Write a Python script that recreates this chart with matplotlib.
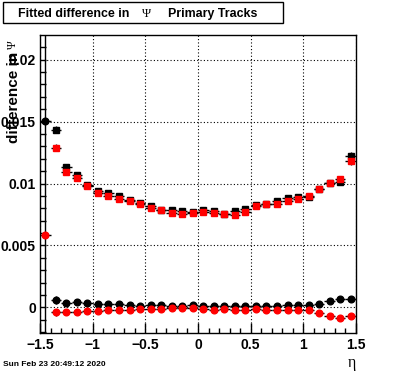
import numpy as np
import matplotlib
matplotlib.use("Agg")
import matplotlib.pyplot as plt
from matplotlib.patches import Rectangle
from matplotlib.ticker import MultipleLocator, FixedLocator

plt.rcParams['font.family'] = ['Liberation Sans', 'DejaVu Sans']
plt.rcParams['axes.unicode_minus'] = True

# ----- DATOS -----
eta = np.round(np.arange(-1.45, 1.5, 0.1), 2)   # centros de los bins

# cuadrados (parte superior)
sq_black = [np.nan, 0.01435, 0.01132, 0.01069, 0.00988, 0.00939, 0.00920, 0.00901, 0.00866, 0.00841,
            0.00820, 0.00785, 0.00785, 0.00776, 0.00771, 0.00790, 0.00776, 0.00754, 0.00779, 0.00793,
            0.00828, 0.00836, 0.00858, 0.00880, 0.00888, 0.00893, 0.00955, 0.01004, 0.01015, 0.01221]
sq_red = [np.nan, 0.01289, 0.01091, 0.01042, 0.00982, 0.00923, 0.00901, 0.00874, 0.00860, 0.00836,
          0.00803, 0.00785, 0.00760, 0.00754, 0.00763, 0.00772, 0.00766, 0.00754, 0.00744, 0.00771,
          0.00820, 0.00836, 0.00836, 0.00858, 0.00876, 0.00896, 0.00955, 0.01004, 0.01037, 0.01183]

# circulos (parte inferior)
ci_black = [0.01506, 0.00061, 0.00037, 0.00045, 0.00037, 0.00028, 0.00028, 0.00028, 0.00020, 0.00015,
            0.00020, 0.00020, 0.00015, 0.00015, 0.00020, 0.00012, 0.00012, 0.00012, 0.00012, 0.00012,
            0.00012, 0.00012, 0.00012, 0.00020, 0.00020, 0.00020, 0.00028, 0.00053, 0.00069, 0.00069]
ci_red = [0.00584, -0.00041, -0.00041, -0.00039, -0.00031, -0.00031, -0.00020, -0.00020, -0.00020, -0.00010,
          -0.00010, -0.00010, -0.00004, -0.00002, -0.00008, -0.00014, -0.00018, -0.00014, -0.00018, -0.00020,
          -0.00016, -0.00018, -0.00018, -0.00018, -0.00018, -0.00018, -0.00047, -0.00069, -0.00087, -0.00069]

# errores verticales (aprox.)
err_sq = [0, 0.00030, 0.00020, 0.00012, 0.00010, 0.00008, 0.00008, 0.00008, 0.00008, 0.00008,
          0.00008, 0.00008, 0.00008, 0.00008, 0.00008, 0.00008, 0.00008, 0.00008, 0.00008, 0.00008,
          0.00008, 0.00008, 0.00008, 0.00008, 0.00008, 0.00008, 0.00010, 0.00012, 0.00020, 0.00030]
err_ci = [0.00010, 0.00030, 0.00010, 0.00008, 0.00006, 0.00006, 0.00006, 0.00006, 0.00006, 0.00006,
          0.00006, 0.00006, 0.00006, 0.00006, 0.00006, 0.00006, 0.00006, 0.00006, 0.00006, 0.00006,
          0.00006, 0.00006, 0.00006, 0.00006, 0.00006, 0.00006, 0.00006, 0.00008, 0.00010, 0.00012]

xerr = 0.05
xticks = [-1.5, -1, -0.5, 0, 0.5, 1, 1.5]
xticklabels = ['\u22121.5', '\u22121', '\u22120.5', '0', '0.5', '1', '1.5']
yticks = [0, 0.005, 0.01, 0.015, 0.02]
yticklabels = ['0', '0.005', '0.01', '0.015', '0.02']

W, H = 396, 372   # tamano en pixeles

# ----- FIGURA -----
fig = plt.figure(figsize=(W/100, H/100), dpi=100)
ax = fig.add_axes([40/W, 39.5/H, 316/W, 297.2/H])

# puntos negros primero, rojos encima
ms = 4.8
ax.errorbar(eta, sq_black, yerr=err_sq, xerr=xerr, fmt='s', ms=ms, mfc='black', mec='black',
            ecolor='black', elinewidth=1, capsize=0, zorder=3)
ax.errorbar(eta, ci_black, yerr=err_ci, xerr=xerr, fmt='o', ms=ms, mfc='black', mec='black',
            ecolor='black', elinewidth=1, capsize=0, zorder=3)
ax.errorbar(eta, sq_red, yerr=err_sq, xerr=xerr, fmt='s', ms=ms, mfc='red', mec='red',
            ecolor='black', elinewidth=1, capsize=0, zorder=4)
ax.errorbar(eta, ci_red, yerr=err_ci, xerr=xerr, fmt='o', ms=ms, mfc='red', mec='red',
            ecolor='black', elinewidth=1, capsize=0, zorder=4)

# barra de error del primer bin (fuera de escala)
ax.axvline(eta[0], color='black', lw=1, zorder=2)

ax.set_xlim(-1.5, 1.5)
ax.set_ylim(-0.00203, 0.02197)

ax.xaxis.set_major_locator(FixedLocator(xticks))
ax.set_xticklabels(xticklabels)
ax.xaxis.set_minor_locator(MultipleLocator(0.1))
ax.yaxis.set_major_locator(FixedLocator(yticks))
ax.set_yticklabels(yticklabels)
ax.yaxis.set_minor_locator(MultipleLocator(0.001))

ax.tick_params(axis='both', which='both', direction='in', top=False, right=False, width=1, color='black')
ax.tick_params(axis='x', which='major', length=7, pad=4, labelsize=10)
ax.tick_params(axis='x', which='minor', length=3.5)
ax.tick_params(axis='y', which='major', length=4.2, pad=3, labelsize=10)
ax.tick_params(axis='y', which='minor', length=4.2)
for lab in ax.get_xticklabels() + ax.get_yticklabels():
    lab.set_fontweight('bold')

ax.grid(True, which='major', color='black', linestyle=(0, (1, 2)), lw=0.8)
for s in ax.spines.values():
    s.set_linewidth(1)

# titulo del eje y (como en ROOT, se monta sobre las etiquetas)
fig.text(14/W, 1 - 52/H, 'difference in', rotation=90, ha='center', va='top',
         fontsize=11, fontweight='bold')
fig.text(13/W, 1 - 45/H, '\u03a8', rotation=90, ha='center', va='center',
         fontsize=8.5, family=['Liberation Serif', 'DejaVu Serif'])

fig.text(356/W, 1 - 363/H, '\u03b7', ha='right', va='center', fontsize=11.5,
         family=['Liberation Serif', 'DejaVu Serif'])
fig.text(3/W, 1 - 364/H, 'Sun Feb 23 20:49:12 2020', ha='left', va='center', fontsize=6, fontweight='bold')

# caja del titulo
fig.add_artist(Rectangle((3/W, 1 - 23/H), 280/W, 21.5/H, transform=fig.transFigure,
                         fc='white', ec='black', lw=1))
fig.text(18/W, 1 - 16.7/H, 'Fitted difference in', ha='left', va='baseline', fontsize=8.9, fontweight='bold')
fig.text(147/W, 1 - 16.7/H, '\u03a8', ha='center', va='baseline', fontsize=9,
         family=['Liberation Serif', 'DejaVu Serif'])
fig.text(168/W, 1 - 16.7/H, 'Primary Tracks', ha='left', va='baseline', fontsize=8.9, fontweight='bold')

fig.savefig('out.png', dpi=100)
